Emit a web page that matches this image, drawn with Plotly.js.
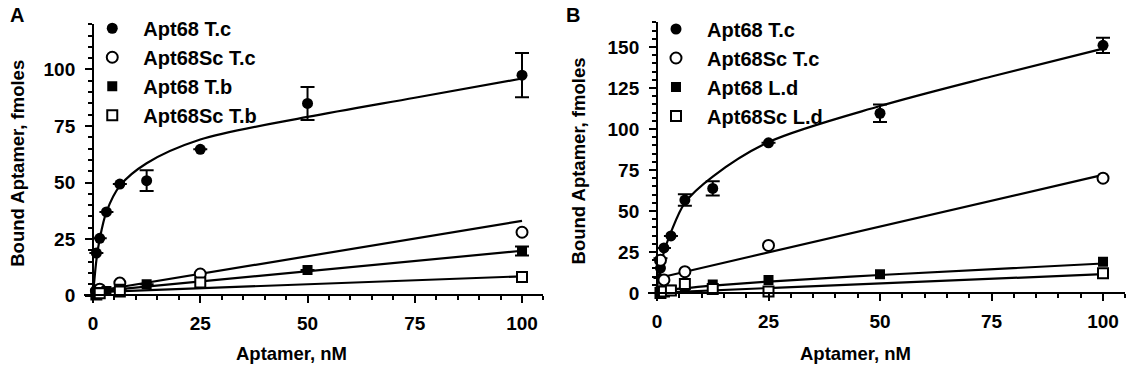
<!DOCTYPE html>
<html>
<head>
<meta charset="utf-8">
<script src="https://cdn.plot.ly/plotly-3.0.1.min.js"></script>
<style>
  html, body { margin: 0; padding: 0; background: #ffffff; }
  #chart { width: 1132px; height: 380px; }
</style>
</head>
<body>
<div id="chart"></div>
<script>
// ---------- Panel A data ----------
const aTcX    = [0.78, 1.56, 3.125, 6.25, 12.5, 25, 50, 100];
const aTcY    = [18.8, 25.3, 37, 49.3, 50.8, 64.7, 85, 97.5];
const aTcErr  = [0, 0, 0, 0, 4.6, 0, 7.3, 9.8];
const aScTcX  = [0.78, 1.56, 6.25, 25, 100];
const aScTcY  = [2, 2.8, 5.5, 9.5, 28];
const aTbX    = [1.56, 3.125, 6.25, 12.5, 50, 100];
const aTbY    = [1.5, 2, 3, 5, 11.3, 19.7];
const aTbErr  = [0, 0, 0, 0, 0, 2];
const aScTbX  = [0.78, 1.56, 6.25, 25, 100];
const aScTbY  = [0.5, 1, 1.8, 5.7, 8.2];
// fitted curves
const aTcFitX   = [0, 0.78, 1.56, 3.125, 6.25, 12.5, 25, 50, 75, 100];
const aTcFitY   = [0, 15.5, 25, 37, 48.5, 58.5, 69, 79, 87.5, 96];
const aScTcFitX = [0.78, 100];
const aScTcFitY = [2, 33];
const aTbFitX   = [0.78, 100];
const aTbFitY   = [1.8, 19.8];
const aScTbFitX = [0.78, 100];
const aScTbFitY = [1.5, 8.5];

// ---------- Panel B data ----------
const bTcX    = [0.78, 1.56, 3.125, 6.25, 12.5, 25, 50, 100];
const bTcY    = [15.2, 27.5, 34.8, 56.7, 63.8, 91.6, 109.6, 151];
const bTcErr  = [6, 0, 0, 3.5, 4.4, 0, 5.4, 4.7];
const bScTcX  = [0.78, 1.56, 6.25, 25, 100];
const bScTcY  = [20, 8, 13, 29, 70];
const bLdX    = [0.78, 1.56, 3.125, 6.25, 12.5, 25, 50, 100];
const bLdY    = [1, 1.5, 2, 3, 5.2, 8, 11.5, 19];
const bScLdX  = [0.78, 1.56, 3.125, 6.25, 12.5, 25, 100];
const bScLdY  = [0, 1, 1.5, 5.5, 2.5, 1, 12];
const bTcFitX   = [0, 0.78, 1.56, 3.125, 6.25, 12.5, 25, 50, 75, 100];
const bTcFitY   = [3, 16, 25, 37, 55, 71, 92, 114, 132, 149];
const bScTcFitX = [0.78, 100];
const bScTcFitY = [9.5, 72];
const bLdFitX   = [0.78, 12.5, 25, 50, 100];
const bLdFitY   = [1.5, 4.5, 7, 11, 18];
const bScLdFitX = [0.78, 100];
const bScLdFitY = [0.3, 11.5];

const legendNamesA = ['Apt68 T.c', 'Apt68Sc T.c', 'Apt68 T.b', 'Apt68Sc T.b'];
const legendNamesB = ['Apt68 T.c', 'Apt68Sc T.c', 'Apt68 L.d', 'Apt68Sc L.d'];
const xTitle = 'Aptamer, nM';
const yTitle = 'Bound Aptamer, fmoles';

const FONT = 'Liberation Sans, Arial, Helvetica, sans-serif';
const pad = '\u00a0\u00a0';

function fitTrace(x, y, xa, ya, spline) {
  return {x: x, y: y, xaxis: xa, yaxis: ya, mode: 'lines', showlegend: false,
          hoverinfo: 'skip',
          line: {color: '#000', width: 2.2, shape: spline ? 'spline' : 'linear', smoothing: 0.9}};
}
function markTrace(x, y, err, xa, ya, symbol, open, name, legend, grp) {
  const t = {x: x, y: y, xaxis: xa, yaxis: ya, mode: 'markers', name: pad + name,
    legend: legend, legendgroup: grp,
    marker: {symbol: symbol, size: symbol.indexOf('square') === 0 ? 10 : 11,
             color: open ? '#fff' : '#000', line: {color: '#000', width: open ? 2 : 0}}};
  if (err) {
    t.error_y = {type: 'data', array: err, visible: true, color: '#000', thickness: 2, width: 7};
  }
  return t;
}

const traces = [
  fitTrace(aTcFitX, aTcFitY, 'x', 'y', true),
  fitTrace(aScTcFitX, aScTcFitY, 'x', 'y', false),
  fitTrace(aTbFitX, aTbFitY, 'x', 'y', false),
  fitTrace(aScTbFitX, aScTbFitY, 'x', 'y', false),
  markTrace(aTcX, aTcY, aTcErr, 'x', 'y', 'circle', false, legendNamesA[0], 'legend', 'a1'),
  markTrace(aScTcX, aScTcY, null, 'x', 'y', 'circle', true, legendNamesA[1], 'legend', 'a2'),
  markTrace(aTbX, aTbY, aTbErr, 'x', 'y', 'square', false, legendNamesA[2], 'legend', 'a3'),
  markTrace(aScTbX, aScTbY, null, 'x', 'y', 'square', true, legendNamesA[3], 'legend', 'a4'),

  fitTrace(bTcFitX, bTcFitY, 'x2', 'y2', true),
  fitTrace(bScTcFitX, bScTcFitY, 'x2', 'y2', false),
  fitTrace(bLdFitX, bLdFitY, 'x2', 'y2', true),
  fitTrace(bScLdFitX, bScLdFitY, 'x2', 'y2', false),
  markTrace(bTcX, bTcY, bTcErr, 'x2', 'y2', 'circle', false, legendNamesB[0], 'legend2', 'b1'),
  markTrace(bScTcX, bScTcY, null, 'x2', 'y2', 'circle', true, legendNamesB[1], 'legend2', 'b2'),
  markTrace(bLdX, bLdY, null, 'x2', 'y2', 'square', false, legendNamesB[2], 'legend2', 'b3'),
  markTrace(bScLdX, bScLdY, null, 'x2', 'y2', 'square', true, legendNamesB[3], 'legend2', 'b4')
];

const tickFont = {family: FONT, size: 19, color: '#000', weight: 'bold'};
const titleFont = {family: FONT, size: 18.5, color: '#000', weight: 'bold'};

function xAxis(domain, pos) {
  return {domain: domain, range: [-2, 105], anchor: 'free', position: pos,
    showline: true, linewidth: 2, linecolor: '#000', showgrid: false, zeroline: false,
    tick0: 0, dtick: 25, ticks: 'outside', ticklen: 7, tickwidth: 2, tickcolor: '#000',
    ticklabelstandoff: 4,
    minor: {dtick: 5, tick0: 0, ticks: 'outside', ticklen: 4, tickwidth: 2, tickcolor: '#000', showgrid: false},
    tickfont: tickFont};
}
function yAxis(domain, range, pos, standoff) {
  return {domain: domain, range: range, anchor: 'free', position: pos,
    showline: true, linewidth: 2, linecolor: '#000', showgrid: false, zeroline: false,
    tick0: 0, dtick: 25, ticks: 'outside', ticklen: 7, tickwidth: 2, tickcolor: '#000',
    ticklabelstandoff: 6,
    minor: {dtick: 5, tick0: 0, ticks: 'outside', ticklen: 4, tickwidth: 2, tickcolor: '#000', showgrid: false},
    tickfont: tickFont, title: {text: yTitle, font: titleFont, standoff: standoff}};
}

const legendFont = {family: FONT, size: 20, color: '#000', weight: 'bold'};
const layout = {
  width: 1132, height: 380,
  margin: {l: 0, r: 0, t: 0, b: 0},
  paper_bgcolor: '#fff', plot_bgcolor: 'rgba(0,0,0,0)',
  showlegend: true,
  xaxis: xAxis([0.0746, 0.4801], 0.2224),
  yaxis: yAxis([0.2045, 0.9361], [-3, 120], 0.0822, 13),
  xaxis2: xAxis([0.5725, 0.9941], 0.2289),
  yaxis2: yAxis([0.2116, 0.9411], [-4, 165], 0.5804, 16),
  legend: {x: 0.0815, y: 0.977, xanchor: 'left', yanchor: 'top', bgcolor: 'rgba(0,0,0,0)',
           font: legendFont, traceorder: 'normal', tracegroupgap: 0, itemclick: false},
  legend2: {x: 0.5795, y: 0.975, xanchor: 'left', yanchor: 'top', bgcolor: 'rgba(0,0,0,0)',
            font: legendFont, traceorder: 'normal', tracegroupgap: 0, itemclick: false},
  annotations: [
    {text: 'A', xref: 'paper', yref: 'paper', x: 0.0075, y: 0.96, xanchor: 'left', yanchor: 'middle',
     showarrow: false, font: {family: FONT, size: 20, color: '#000', weight: 'bold'}},
    {text: 'B', xref: 'paper', yref: 'paper', x: 0.4985, y: 0.96, xanchor: 'left', yanchor: 'middle',
     showarrow: false, font: {family: FONT, size: 20, color: '#000', weight: 'bold'}},
    {text: xTitle, xref: 'paper', yref: 'paper', x: 291 / 1132, y: 0.071, xanchor: 'center', yanchor: 'middle',
     showarrow: false, font: titleFont},
    {text: xTitle, xref: 'paper', yref: 'paper', x: 855 / 1132, y: 0.071, xanchor: 'center', yanchor: 'middle',
     showarrow: false, font: titleFont}
  ]
};

Plotly.newPlot('chart', traces, layout, {displayModeBar: false, staticPlot: true});
</script>
</body>
</html>
